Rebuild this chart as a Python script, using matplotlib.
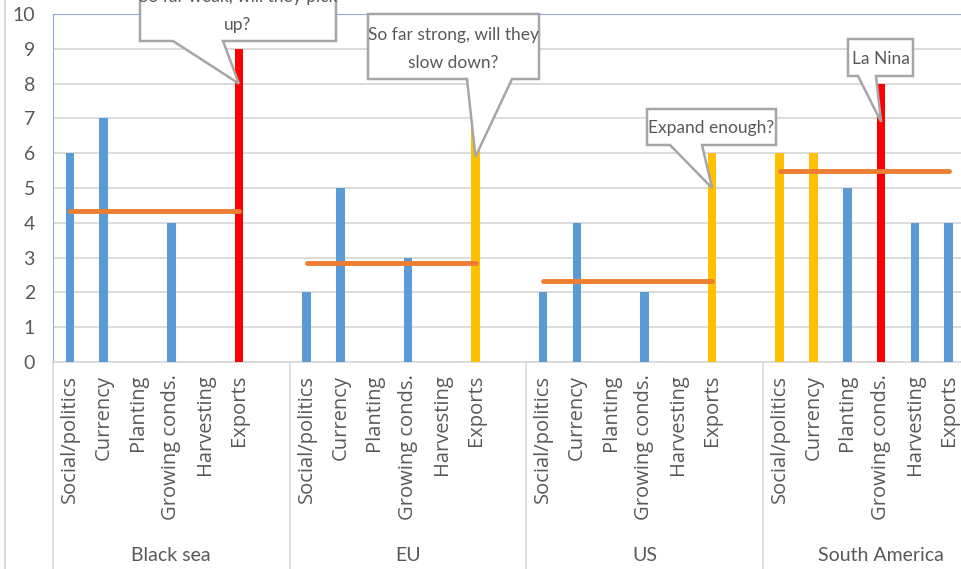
import matplotlib
matplotlib.use("Agg")
import matplotlib.pyplot as plt
from matplotlib.patches import Polygon
from matplotlib.lines import Line2D
import numpy as np

# Data
regions = ["Black sea", "EU", "US", "South America"]
factors = ["Social/politics", "Currency", "Planting", "Growing conds.", "Harvesting", "Exports"]
black_sea = [6, 7, 0, 4, 0, 9]
eu = [2, 5, 0, 3, 0, 7]
us = [2, 4, 0, 2, 0, 6]
south_america = [6, 6, 5, 8, 4, 4]
# colour flag per bar: b = normal, y = watch, r = key risk
black_sea_flags = ["b", "b", "b", "b", "b", "r"]
eu_flags = ["b", "b", "b", "b", "b", "y"]
us_flags = ["b", "b", "b", "b", "b", "y"]
south_america_flags = ["y", "y", "b", "r", "b", "b"]

callout_texts = ["So far weak, will they pick\nup?", "So far strong, will they\nslow down?",
                 "Expand enough?", "La Nina"]

narrow = "Lato"
grey_txt = "#595959"
colors = {"b": "#5B9BD5", "y": "#FFC000", "r": "#FF0000"}

fig = plt.figure(figsize=(9.61, 5.69), dpi=100)
ax = fig.add_axes([53 / 961, 1 - 362 / 569, 908 / 961, 348 / 569])

all_vals = [black_sea, eu, us, south_america]
all_flags = [black_sea_flags, eu_flags, us_flags, south_america_flags]
slots = len(factors) + 1

for g, (vals, flags) in enumerate(zip(all_vals, all_flags)):
    xs = np.arange(len(vals)) + g * slots
    ax.bar(xs, vals, width=0.25, color=[colors[f] for f in flags], zorder=3)
    avg = np.mean(vals)
    ax.plot([xs[0], xs[-1]], [avg, avg], color="#ED7D31", lw=3.5,
            solid_capstyle="round", zorder=4)

ax.set_xlim(-0.5, -0.5 + 908 / 33.8)
ax.set_ylim(0, 10)
ax.set_yticks(range(0, 11))
ax.tick_params(axis="y", length=0, pad=13, labelsize=14, labelcolor=grey_txt)
for lab in ax.get_yticklabels():
    lab.set_fontfamily(narrow)
ax.set_xticks([])
ax.grid(axis="y", color="#D9D9D9", lw=1.3, zorder=0)
ax.spines["right"].set_visible(False)
ax.spines["top"].set_color("#8FAADC")
ax.spines["left"].set_color("#8FAADC")
ax.spines["bottom"].set_color("#D9D9D9")
ax.spines["bottom"].set_linewidth(1.3)

# category labels and group labels
for g, reg in enumerate(regions):
    for i, f in enumerate(factors):
        ax.text(g * slots + i, -0.36, f, rotation=90, ha="center", va="top",
                fontsize=14.5, color=grey_txt, family="Open Sans",
                clip_on=False)
    ax.text(g * slots + (slots - 1) / 2, -5.55, reg, ha="center", va="center",
            fontsize=14, color=grey_txt, family=narrow, clip_on=False)
    xb = g * slots - 0.5
    ax.add_line(Line2D([xb, xb], [0, -6.0], color="#D9D9D9", lw=1.2, clip_on=False))

# outer chart frame edge on the left
fig.add_artist(Line2D([5 / 961, 5 / 961], [0, 1], color="#D9D9D9", lw=1.5))


def px_x(p):
    return (p - 53) / 33.8 - 0.5


def px_y(p):
    return (362 - p) / 34.8


def callout(box, base, tip, text, ty):
    x0, x1, y0, y1 = px_x(box[0]), px_x(box[1]), px_y(box[3]), px_y(box[2])
    pts = [(x0, y1), (x1, y1), (x1, y0), (px_x(base[1]), y0), tip,
           (px_x(base[0]), y0), (x0, y0)]
    ax.add_patch(Polygon(pts, closed=True, facecolor="white", edgecolor="#A6A6A6",
                         lw=1.8, zorder=6, clip_on=False))
    ax.text((x0 + x1) / 2, px_y(ty), text, ha="center", va="center",
            fontsize=12.5, color=grey_txt, family=narrow, zorder=7,
            clip_on=False, linespacing=1.85)


# tips point into the highlighted bars, one unit below their tops
callout((140, 336, -40, 41), (173, 223), (5, black_sea[5] - 1), callout_texts[0], 11)
callout((368, 539, 14, 79), (467, 512), (slots + 5, eu[5] - 1.1), callout_texts[1], 49)
callout((647, 776, 109, 145), (670, 702), (2 * slots + 5, us[5] - 1), callout_texts[2], 128)
callout((848, 913, 39, 76), (858, 876), (3 * slots + 3, south_america[3] - 1.1), callout_texts[3], 59)

fig.savefig("out.png", dpi=100)
